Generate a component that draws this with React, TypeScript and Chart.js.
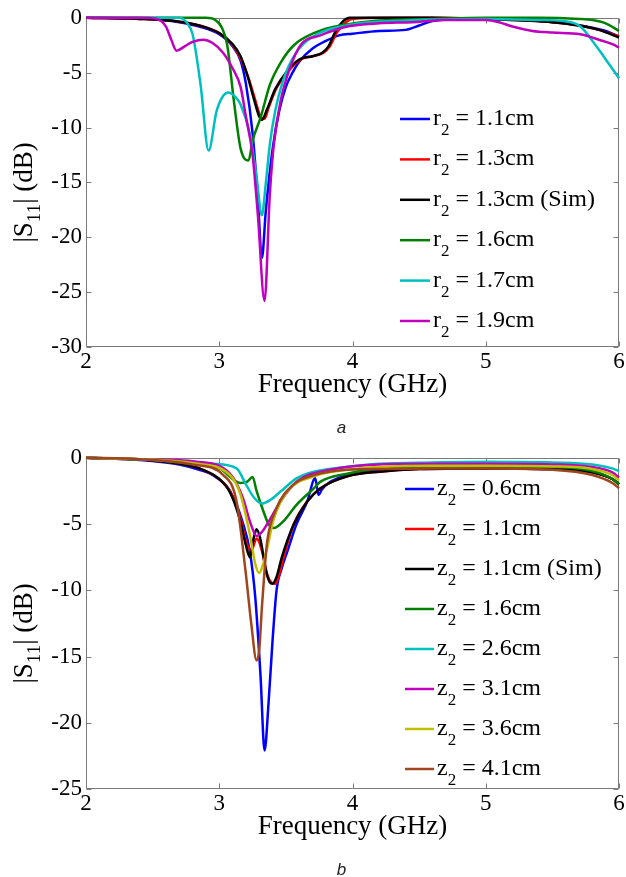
import { useEffect, useRef } from 'react';
import { Chart, registerables } from 'chart.js';

Chart.register(...registerables);

const SERIF = "'Liberation Serif', 'Times New Roman', Times, serif";

// ---------- Panel a : r2 sweep ----------
const aLegend = ['1.1cm', '1.3cm', '1.3cm (Sim)', '1.6cm', '1.7cm', '1.9cm'];
const aColors = ['#0000ff', '#ff0000', '#000000', '#008000', '#00bfbf', '#bf00bf'];

const r11F = [2.0, 2.3, 2.5, 2.7, 2.85, 3.0, 3.1, 3.16, 3.2, 3.25, 3.29, 3.32, 3.35, 3.4, 3.45, 3.5, 3.55, 3.6, 3.7, 3.8, 3.9, 4.0, 4.2, 4.4, 4.5, 4.6, 4.8, 5.0, 5.2, 5.4, 5.6, 5.8, 5.9, 6.0];
const r11Db = [0, -0.05, -0.1, -0.4, -0.8, -1.5, -2.6, -3.9, -6.0, -10.5, -16.5, -21.9, -17.5, -12.0, -8.5, -6.3, -5.0, -4.0, -2.8, -2.1, -1.6, -1.45, -1.2, -1.1, -0.7, -0.3, -0.1, -0.1, -0.15, -0.3, -0.5, -0.9, -1.2, -1.7];

const r13F = [2.0, 2.4, 2.7, 2.85, 3.0, 3.1, 3.16, 3.22, 3.27, 3.31, 3.34, 3.37, 3.43, 3.51, 3.61, 3.7, 3.78, 3.83, 3.88, 3.94, 4.0, 4.3, 4.6, 5.0, 5.3, 5.5, 5.7, 5.85, 6.0];
const r13Db = [0, -0.1, -0.35, -0.7, -1.4, -2.5, -3.7, -5.5, -7.5, -9.0, -9.2, -8.2, -6.4, -5.0, -3.8, -3.5, -3.2, -2.6, -1.4, -0.5, -0.1, 0, 0, -0.1, -0.25, -0.4, -0.7, -1.1, -1.7];

const r13SimF = [2.0, 2.4, 2.7, 2.85, 3.0, 3.1, 3.16, 3.21, 3.26, 3.3, 3.32, 3.36, 3.42, 3.5, 3.6, 3.7, 3.77, 3.82, 3.87, 3.93, 3.98, 4.3, 4.6, 5.0, 5.3, 5.5, 5.7, 5.85, 6.0];
const r13SimDb = [0, -0.1, -0.35, -0.7, -1.4, -2.4, -3.5, -5.2, -7.4, -9.0, -9.3, -8.3, -6.5, -5.0, -3.8, -3.5, -3.2, -2.6, -1.3, -0.3, 0, 0, 0, -0.1, -0.25, -0.4, -0.7, -1.1, -1.8];

const r16F = [2.0, 2.5, 2.9, 2.97, 3.02, 3.06, 3.11, 3.16, 3.22, 3.25, 3.31, 3.38, 3.46, 3.56, 3.71, 3.83, 3.96, 4.2, 4.6, 5.0, 5.4, 5.7, 5.8, 5.9, 5.96, 6.0];
const r16Db = [0, 0, 0, -0.2, -0.9, -2.5, -7.6, -11.9, -13.0, -11.2, -9.1, -6.1, -4.1, -2.5, -1.4, -0.9, -0.6, -0.25, -0.1, 0, 0, -0.1, -0.2, -0.5, -0.9, -1.2];

const r17F = [2.0, 2.5, 2.7, 2.76, 2.8, 2.86, 2.92, 2.98, 3.03, 3.07, 3.12, 3.16, 3.23, 3.28, 3.32, 3.35, 3.38, 3.42, 3.46, 3.5, 3.6, 3.75, 4.0, 4.3, 4.6, 5.0, 5.4, 5.58, 5.71, 5.83, 5.93, 6.0];
const r17Db = [0, 0, 0, -0.5, -1.5, -6.1, -12.1, -8.5, -7.1, -6.8, -7.2, -7.9, -10.6, -14.5, -18.0, -15.0, -11.5, -8.5, -6.5, -5.0, -2.8, -1.4, -0.6, -0.3, -0.15, -0.1, -0.2, -0.3, -0.8, -2.6, -4.3, -5.5];

const r19F = [2.0, 2.4, 2.53, 2.6, 2.64, 2.68, 2.74, 2.8, 2.88, 2.95, 3.03, 3.1, 3.16, 3.2, 3.25, 3.29, 3.34, 3.38, 3.41, 3.46, 3.53, 3.61, 3.76, 3.96, 4.2, 4.45, 4.7, 5.0, 5.1, 5.2, 5.35, 5.5, 5.71, 5.85, 5.95, 6.0];
const r19Db = [0, 0, -0.1, -0.8, -2.0, -3.0, -2.6, -2.2, -2.0, -2.3, -3.2, -4.6, -6.3, -9.0, -12.5, -18.0, -25.8, -16.0, -11.5, -7.6, -4.6, -2.5, -1.6, -0.8, -0.5, -0.4, -0.2, -0.2, -0.4, -0.8, -1.2, -1.35, -1.5, -2.0, -2.4, -2.7];

const aFreqs = [r11F, r13F, r13SimF, r16F, r17F, r19F];
const aDbs = [r11Db, r13Db, r13SimDb, r16Db, r17Db, r19Db];
const aYTicks = { min: -30, max: 0, step: 5 };

// ---------- Panel b : z2 sweep ----------
const bLegend = ['0.6cm', '1.1cm', '1.1cm (Sim)', '1.6cm', '2.6cm', '3.1cm', '3.6cm', '4.1cm'];
const bColors = ['#0000ff', '#ff0000', '#000000', '#008000', '#00bfbf', '#bf00bf', '#bfbf00', '#a0461e'];

const z06F = [2.0, 2.3, 2.5, 2.7, 2.85, 2.95, 3.08, 3.18, 3.23, 3.27, 3.31, 3.34, 3.37, 3.4, 3.43, 3.47, 3.51, 3.58, 3.66, 3.72, 3.745, 3.77, 3.82, 3.9, 3.96, 4.2, 4.5, 5.0, 5.5, 5.8, 5.95, 6.0];
const z06Db = [0, -0.1, -0.25, -0.5, -0.9, -1.3, -2.5, -5.0, -7.1, -10.5, -16.5, -22.1, -18.5, -13.8, -10.0, -8.3, -7.1, -5.0, -3.3, -1.55, -2.8, -2.4, -1.9, -1.5, -1.3, -0.9, -0.8, -0.8, -0.85, -1.1, -1.6, -2.0];

const z11F = [2.0, 2.3, 2.5, 2.7, 2.85, 3.0, 3.08, 3.16, 3.2, 3.24, 3.28, 3.32, 3.36, 3.39, 3.42, 3.45, 3.48, 3.56, 3.66, 3.76, 3.96, 4.2, 4.5, 5.0, 5.5, 5.8, 5.95, 6.0];
const z11Db = [0, -0.1, -0.2, -0.45, -0.8, -1.6, -2.5, -4.6, -6.3, -7.0, -6.1, -7.0, -8.8, -9.4, -9.5, -8.8, -7.6, -5.0, -3.3, -2.3, -1.4, -1.05, -0.85, -0.8, -0.85, -1.1, -1.6, -2.0];

const z11SimF = [2.0, 2.3, 2.5, 2.7, 2.85, 3.0, 3.08, 3.15, 3.2, 3.23, 3.26, 3.28, 3.31, 3.35, 3.38, 3.4, 3.43, 3.47, 3.56, 3.66, 3.76, 3.96, 4.2, 4.5, 5.0, 5.5, 5.8, 5.95, 6.0];
const z11SimDb = [0, -0.1, -0.2, -0.45, -0.8, -1.6, -2.6, -4.5, -6.6, -7.5, -6.0, -5.4, -6.2, -8.5, -9.4, -9.5, -9.0, -7.5, -5.0, -3.3, -2.3, -1.4, -1.05, -0.85, -0.8, -0.85, -1.1, -1.6, -2.0];

const z16F = [2.0, 2.4, 2.7, 3.0, 3.16, 3.21, 3.25, 3.28, 3.33, 3.37, 3.41, 3.48, 3.58, 3.71, 3.76, 3.96, 4.2, 4.6, 5.0, 5.5, 5.8, 5.95, 6.0];
const z16Db = [0, -0.1, -0.35, -0.8, -1.9, -1.8, -1.45, -2.5, -4.0, -5.0, -5.3, -4.8, -3.55, -2.3, -1.8, -1.2, -0.8, -0.7, -0.65, -0.7, -1.0, -1.6, -2.0];

const z26F = [2.0, 2.4, 2.7, 2.95, 3.13, 3.2, 3.26, 3.32, 3.38, 3.46, 3.58, 3.71, 3.96, 4.2, 4.6, 5.0, 5.5, 5.8, 5.95, 6.0];
const z26Db = [0, -0.1, -0.3, -0.45, -0.8, -2.0, -3.0, -3.45, -3.2, -2.55, -1.55, -1.05, -0.68, -0.45, -0.35, -0.3, -0.35, -0.5, -0.8, -1.0];

const z31F = [2.0, 2.4, 2.83, 3.08, 3.18, 3.23, 3.28, 3.32, 3.36, 3.46, 3.58, 3.83, 4.2, 4.6, 5.0, 5.5, 5.8, 5.95, 6.0];
const z31Db = [0, -0.1, -0.3, -1.2, -3.1, -4.8, -5.9, -5.6, -5.0, -3.3, -1.8, -0.9, -0.5, -0.45, -0.45, -0.5, -0.7, -1.1, -1.5];

const z36F = [2.0, 2.4, 2.8, 3.08, 3.16, 3.23, 3.27, 3.3, 3.33, 3.36, 3.41, 3.51, 3.71, 3.96, 4.2, 4.6, 5.0, 5.5, 5.8, 5.95, 6.0];
const z36Db = [0, -0.1, -0.4, -1.3, -2.8, -5.8, -8.0, -8.7, -8.0, -6.8, -4.6, -2.55, -1.4, -0.9, -0.7, -0.6, -0.6, -0.65, -0.85, -1.3, -1.7];

const z41F = [2.0, 2.4, 2.8, 3.03, 3.13, 3.2, 3.24, 3.28, 3.3, 3.32, 3.34, 3.36, 3.43, 3.56, 3.71, 3.96, 4.2, 4.6, 5.0, 5.5, 5.8, 5.95, 6.0];
const z41Db = [0, -0.1, -0.5, -1.3, -3.3, -8.8, -12.5, -15.3, -14.5, -11.3, -8.5, -6.3, -3.8, -2.0, -1.3, -0.9, -0.85, -0.8, -0.8, -0.9, -1.3, -1.9, -2.3];

const bFreqs = [z06F, z11F, z11SimF, z16F, z26F, z31F, z36F, z41F];
const bDbs = [z06Db, z11Db, z11SimDb, z16Db, z26Db, z31Db, z36Db, z41Db];
const bYTicks = { min: -25, max: 0, step: 5 };

const xTicks = { min: 2, max: 6, step: 1 };

type PanelSpec = {
  freqs: number[][];
  dbs: number[][];
  labels: string[];
  colors: string[];
  yTicks: { min: number; max: number; step: number };
  prefix: string;
  letter: string;
  xAxisHeight: number;
  legendX0: number;
  legendX1: number;
  legendY0: number;
  legendDy: number;
};

function drawSubText(
  ctx: CanvasRenderingContext2D,
  main: string,
  sub: string,
  rest: string,
  x: number,
  baseline: number,
  size: number,
  subSize: number,
  subDrop: number
) {
  ctx.font = `${size}px ${SERIF}`;
  ctx.fillText(main, x, baseline);
  x += ctx.measureText(main).width;
  ctx.font = `${subSize}px ${SERIF}`;
  ctx.fillText(sub, x, baseline + subDrop);
  x += ctx.measureText(sub).width;
  ctx.font = `${size}px ${SERIF}`;
  ctx.fillText(rest, x, baseline);
}

function subTextWidth(ctx: CanvasRenderingContext2D, main: string, sub: string, rest: string, size: number, subSize: number) {
  ctx.font = `${size}px ${SERIF}`;
  let w = ctx.measureText(main).width + ctx.measureText(rest).width;
  ctx.font = `${subSize}px ${SERIF}`;
  w += ctx.measureText(sub).width;
  return w;
}

const decorPlugin = {
  id: 'decor',
  beforeDatasetsDraw(chart: any) {
    const ctx: CanvasRenderingContext2D = chart.ctx;
    const { left, right, top, bottom } = chart.chartArea;
    const l = Math.round(left) + 0.5;
    const r = Math.round(right) - 0.5;
    const t = Math.round(top) + 0.5;
    const b = Math.round(bottom) - 0.5;
    ctx.save();
    ctx.strokeStyle = '#7a7a7a';
    ctx.lineWidth = 1;
    ctx.beginPath();
    ctx.rect(l, t, r - l, b - t);
    const xs = chart.scales.x;
    const ys = chart.scales.y;
    xs.ticks.forEach((tk: any) => {
      const px = Math.round(xs.getPixelForValue(tk.value)) + 0.5;
      ctx.moveTo(px, b);
      ctx.lineTo(px, b - 5);
      ctx.moveTo(px, t);
      ctx.lineTo(px, t + 5);
    });
    ys.ticks.forEach((tk: any) => {
      const py = Math.round(ys.getPixelForValue(tk.value)) + 0.5;
      ctx.moveTo(l, py);
      ctx.lineTo(l + 5, py);
      ctx.moveTo(r, py);
      ctx.lineTo(r - 5, py);
    });
    ctx.stroke();
    ctx.restore();
  },
  afterDraw(chart: any, _args: any, opts: any) {
    const ctx: CanvasRenderingContext2D = chart.ctx;
    const { left, right, top, bottom } = chart.chartArea;
    const spec: PanelSpec = opts.spec;
    ctx.save();
    ctx.fillStyle = '#000';
    ctx.textAlign = 'left';
    ctx.textBaseline = 'alphabetic';

    // legend
    spec.labels.forEach((lab, i) => {
      const y = spec.legendY0 + i * spec.legendDy;
      ctx.strokeStyle = spec.colors[i];
      ctx.lineWidth = 2.5;
      ctx.beginPath();
      ctx.moveTo(spec.legendX0, y);
      ctx.lineTo(spec.legendX1, y);
      ctx.stroke();
      drawSubText(ctx, spec.prefix, '2', ' = ' + lab, spec.legendX1 + 3, y + 6, 24, 17, 10);
    });

    // x-axis title
    ctx.font = `27px ${SERIF}`;
    ctx.textAlign = 'center';
    ctx.textBaseline = 'middle';
    ctx.fillText('Frequency (GHz)', (left + right) / 2, bottom + 38);

    // panel letter
    ctx.font = `italic 17px 'Liberation Sans', Arial, sans-serif`;
    ctx.fillStyle = '#222';
    ctx.fillText(spec.letter, (left + right) / 2 - 11, bottom + 81);

    // y-axis title (rotated)
    ctx.fillStyle = '#000';
    ctx.textAlign = 'left';
    ctx.textBaseline = 'alphabetic';
    const w = subTextWidth(ctx, '|S', '11', '| (dB)', 27, 19);
    ctx.translate(32, (top + bottom) / 2 + 10);
    ctx.rotate(-Math.PI / 2);
    drawSubText(ctx, '|S', '11', '| (dB)', -w / 2, 0, 27, 19, 8);
    ctx.restore();
  },
};

function makeConfig(spec: PanelSpec): any {
  const tickFont = { family: SERIF, size: 23 };
  return {
    type: 'line',
    data: {
      datasets: spec.freqs.map((fr, i) => ({
        label: spec.labels[i],
        data: fr.map((f, j) => ({ x: f, y: spec.dbs[i][j] })),
        borderColor: spec.colors[i],
        backgroundColor: spec.colors[i],
        borderWidth: 2.5,
        pointRadius: 0,
        pointHoverRadius: 0,
        fill: false,
        cubicInterpolationMode: 'monotone',
        clip: false,
        order: -i,
      })),
    },
    options: {
      animation: false,
      responsive: false,
      maintainAspectRatio: false,
      devicePixelRatio: 1,
      events: [],
      layout: { padding: { top: 16, right: 7, left: 0, bottom: 0 } },
      plugins: {
        legend: { display: false },
        tooltip: { enabled: false },
        decor: { spec },
      },
      scales: {
        x: {
          type: 'linear',
          min: xTicks.min,
          max: xTicks.max,
          ticks: { stepSize: xTicks.step, font: tickFont, color: '#000', padding: 1, maxRotation: 0 },
          grid: { display: false, drawTicks: false },
          border: { display: false },
          afterFit: (s: any) => {
            s.height = spec.xAxisHeight;
          },
        },
        y: {
          type: 'linear',
          min: spec.yTicks.min,
          max: spec.yTicks.max,
          ticks: { stepSize: spec.yTicks.step, font: tickFont, color: '#000', padding: 4 },
          grid: { display: false, drawTicks: false },
          border: { display: false },
          afterFit: (s: any) => {
            s.width = 86;
          },
        },
      },
    },
    plugins: [decorPlugin],
  };
}

const panelA: PanelSpec = {
  freqs: aFreqs,
  dbs: aDbs,
  labels: aLegend,
  colors: aColors,
  yTicks: aYTicks,
  prefix: 'r',
  letter: 'a',
  xAxisHeight: 93,
  legendX0: 400,
  legendX1: 430,
  legendY0: 119,
  legendDy: 40.4,
};

const panelB: PanelSpec = {
  freqs: bFreqs,
  dbs: bDbs,
  labels: bLegend,
  colors: bColors,
  yTicks: bYTicks,
  prefix: 'z',
  letter: 'b',
  xAxisHeight: 88,
  legendX0: 405,
  legendX1: 434,
  legendY0: 49,
  legendDy: 40,
};

function Panel({ spec, top, height }: { spec: PanelSpec; top: number; height: number }) {
  const ref = useRef<HTMLCanvasElement>(null);
  useEffect(() => {
    if (!ref.current) return;
    const chart = new Chart(ref.current, makeConfig(spec));
    return () => chart.destroy();
  }, [spec]);
  return (
    <canvas
      ref={ref}
      width={626}
      height={height}
      style={{ position: 'absolute', left: 0, top, width: 626, height, display: 'block' }}
    />
  );
}

export default function App() {
  return (
    <div style={{ position: 'absolute', left: 0, top: 0, width: 626, height: 877, background: '#fff' }}>
      <Panel spec={panelA} top={0} height={440} />
      <Panel spec={panelB} top={440} height={437} />
    </div>
  );
}
